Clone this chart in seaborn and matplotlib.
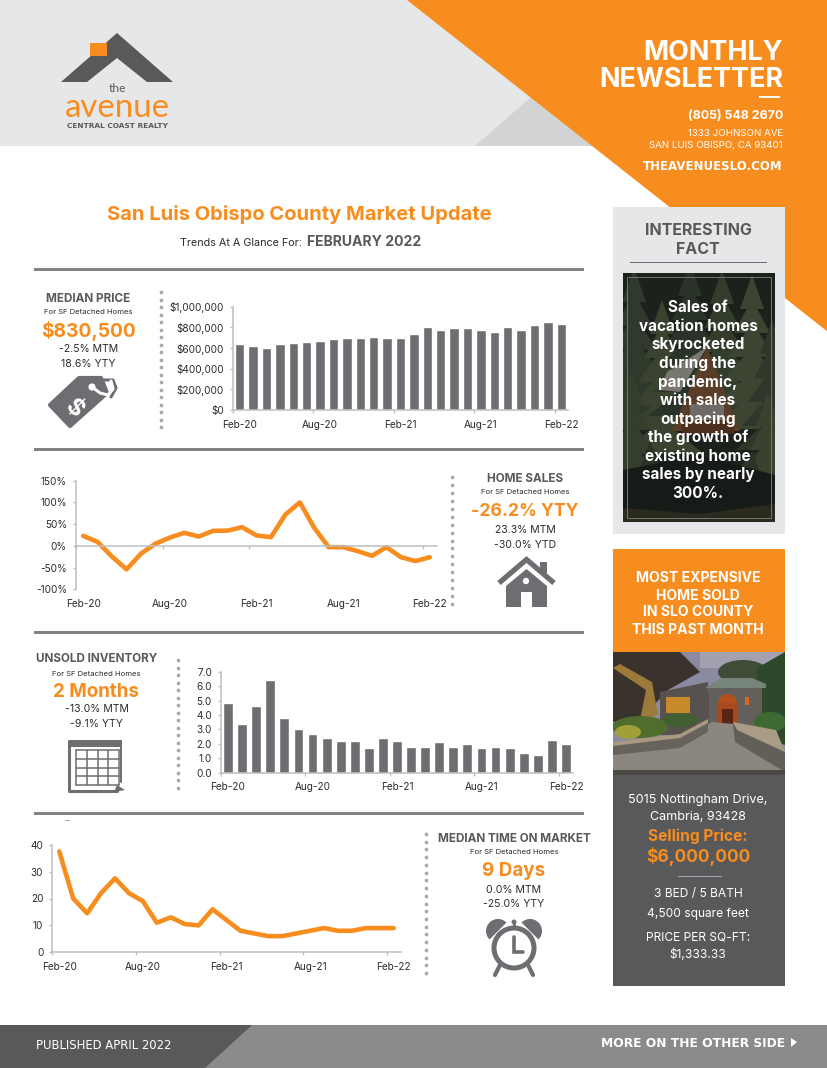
"""Monthly market newsletter page rebuilt with seaborn charts on a pixel canvas."""
from __future__ import annotations

import matplotlib

matplotlib.use("Agg")

import matplotlib.pyplot as plt
import seaborn as sns
from matplotlib.patches import Circle, Ellipse, Polygon, Rectangle, Wedge

WIDTH, HEIGHT = 828, 1068
DPI = 100

ORANGE = "#F78D1E"
LIGHT = "#E6E7E8"
MID = "#D1D3D4"
DARK = "#58595B"
BAR = "#6D6E71"
AXIS = "#BCBEC0"
RULE = "#808285"
DOTS = "#A7A9AC"
FOOTER = "#8A8B8D"
INK = "#2B2B2D"

MONTHS = [
    "Feb-20", "Mar-20", "Apr-20", "May-20", "Jun-20", "Jul-20", "Aug-20", "Sep-20", "Oct-20",
    "Nov-20", "Dec-20", "Jan-21", "Feb-21", "Mar-21", "Apr-21", "May-21", "Jun-21", "Jul-21",
    "Aug-21", "Sep-21", "Oct-21", "Nov-21", "Dec-21", "Jan-22", "Feb-22",
]
TICK_MONTHS = ["Feb-20", "Aug-20", "Feb-21", "Aug-21", "Feb-22"]

MEDIAN_PRICE = [
    640000, 620000, 600000, 635000, 645000, 660000, 665000, 685000, 700000, 698000, 710000,
    698000, 700000, 738000, 800000, 775000, 798000, 795000, 770000, 755000, 800000, 775000,
    820000, 853000, 830500,
]
HOME_SALES = [
    23, 9, -25, -54, -18, 5, 19, 30, 21.5, 34.6, 35, 43, 24, 20, 72, 100, 41.5, -3, -3, -12,
    -23, -3, -26, -35, -26.2,
]
INVENTORY = [
    4.8, 3.4, 4.6, 6.4, 3.8, 3.0, 2.7, 2.4, 2.2, 2.2, 1.7, 2.4, 2.2, 1.8, 1.8, 2.1, 1.8, 2.0,
    1.7, 1.8, 1.7, 1.4, 1.2, 2.3, 2.0,
]
TIME_ON_MARKET = [
    37.5, 20, 14.5, 22, 27.5, 22, 19, 11, 13, 10.5, 10, 16, 12, 8, 7, 6, 6, 7, 8, 9, 8, 8, 9, 9, 9,
]

PRICE_TICKS = [0, 200000, 400000, 600000, 800000, 1000000]
PRICE_LABELS = ["$0", "$200,000", "$400,000", "$600,000", "$800,000", "$1,000,000"]
SALES_TICKS = [-100, -50, 0, 50, 100, 150]
SALES_LABELS = ["-100%", "-50%", "0%", "50%", "100%", "150%"]
INVENTORY_TICKS = [0, 1, 2, 3, 4, 5, 6, 7]
INVENTORY_LABELS = ["0.0", "1.0", "2.0", "3.0", "4.0", "5.0", "6.0", "7.0"]
MARKET_TICKS = [0, 10, 20, 30, 40]
MARKET_LABELS = ["0", "10", "20", "30", "40"]

FACT_LINES = [
    "Sales of", "vacation homes", "skyrocketed", "during the", "pandemic,", "with sales",
    "outpacing", "the growth of", "existing home", "sales by nearly", "300%.",
]
# fir trees behind the cabin: centre x, top y, colour
FIRS = [
    (634, 268, "#2F3A2C"), (662, 300, "#39432F"), (690, 262, "#2A3327"), (722, 270, "#333D2C"),
    (752, 275, "#3B4531"), (772, 320, "#2E3729"), (632, 372, "#343E2D"), (768, 392, "#38422F"),
    (650, 440, "#2A3126"), (752, 450, "#2C3327"),
]

sns.set_theme(style="white")
plt.rcParams["font.family"] = ["Inter", "DejaVu Sans"]

fig = plt.figure(figsize=(WIDTH / DPI, HEIGHT / DPI), dpi=DPI, facecolor="white")
canvas = fig.add_axes([0, 0, 1, 1], zorder=0)
canvas.set_xlim(0, WIDTH)
canvas.set_ylim(HEIGHT, 0)
canvas.axis("off")


def put(x, y, text, px, color=INK, weight="normal", ha="center", family=None, zorder=5, rotation=0):
    """Write text at a pixel position, size given as font pixels."""
    kwargs = {"family": family} if family else {}
    canvas.text(x, y, text, fontsize=px * 72 / DPI, color=color, fontweight=weight, ha=ha,
                va="center_baseline", zorder=zorder, rotation=rotation, **kwargs)


def poly(points, color, zorder=2, clip=None):
    patch = Polygon(points, closed=True, facecolor=color, edgecolor="none", zorder=zorder)
    canvas.add_patch(patch)
    if clip is not None:
        patch.set_clip_path(clip)
    return patch


def rect(x0, y0, x1, y1, color, zorder=2):
    patch = Rectangle((x0, y0), x1 - x0, y1 - y0, facecolor=color, edgecolor="none", zorder=zorder)
    canvas.add_patch(patch)
    return patch


def blob(x, y, w, h, color, clip, zorder=4):
    patch = Ellipse((x, y), w, h, facecolor=color, edgecolor="none", zorder=zorder)
    canvas.add_patch(patch)
    patch.set_clip_path(clip)


def dotted(x, y0, y1):
    count = int(round((y1 - y0) / 7.7)) + 1
    ys = [y0 + i * (y1 - y0) / (count - 1) for i in range(count)]
    canvas.scatter([x] * count, ys, s=7, color=DOTS, linewidths=0, zorder=3)


def chart_axes(left, top, right, bottom):
    ax = fig.add_axes(
        [left / WIDTH, 1 - bottom / HEIGHT, (right - left) / WIDTH, (bottom - top) / HEIGHT],
        zorder=2,
    )
    ax.patch.set_alpha(0)
    return ax


def style_axes(ax, yticks, ylabels, pad=7):
    ax.set_xlim(-0.5, len(MONTHS) - 0.5)
    ax.set_ylim(yticks[0], yticks[-1])
    ax.set_xlabel("")
    ax.set_ylabel("")
    sns.despine(ax=ax)
    for side in ("left", "bottom"):
        ax.spines[side].set_color(AXIS)
        ax.spines[side].set_linewidth(1.1)
    positions = [MONTHS.index(m) for m in TICK_MONTHS]
    ax.set_xticks(positions, TICK_MONTHS)
    ax.set_xticks([p - 0.5 for p in positions], minor=True)
    ax.set_yticks(yticks, ylabels)
    ax.tick_params(axis="x", which="major", length=0, pad=pad, labelsize=7.2, labelcolor=INK)
    ax.tick_params(axis="x", which="minor", length=2.5, width=1, color=AXIS, bottom=True)
    ax.tick_params(axis="y", length=2.5, width=1, color=AXIS, left=True, pad=4, labelsize=7.2, labelcolor=INK)


def bar_chart(box, values, yticks, ylabels):
    ax = chart_axes(*box)
    sns.barplot(x=MONTHS, y=values, color=BAR, saturation=1, width=0.7, ax=ax)
    style_axes(ax, yticks, ylabels)
    return ax


def line_chart(box, values, yticks, ylabels, pad=7):
    ax = chart_axes(*box)
    sns.lineplot(x=MONTHS, y=values, color=ORANGE, linewidth=3.3, sort=False, estimator=None,
                 errorbar=None, ax=ax)
    style_axes(ax, yticks, ylabels, pad=pad)
    return ax


def kpi(x, y_title, title, value, value_px, stat_a, stat_b, y_sub, y_value, y_a, y_b):
    put(x, y_title, title, 11.7, color=DARK, weight="bold")
    put(x, y_sub, "For SF Detached Homes", 7.7)
    put(x, y_value, value, value_px, color=ORANGE, weight="bold")
    put(x, y_a, stat_a, 10.5)
    put(x, y_b, stat_b, 10.5)


# header shapes
rect(0, 0, WIDTH, 146, LIGHT, zorder=1)
poly([(475, 146), (531, 97), (594, 146)], MID, zorder=1)
poly([(407, 0), (828, 0), (828, 332)], ORANGE, zorder=1)

# logo
poly([(117, 33), (173, 82), (147, 82), (117, 58), (87, 82), (61, 82)], DARK)
rect(90, 43, 107, 56, ORANGE, zorder=3)
put(117, 87.5, "the", 12, color=DARK, family="Lato")
put(117, 105, "avenue", 33, color=ORANGE, family="Lato")
put(117.5, 126, "CENTRAL COAST REALTY", 7.4, color=DARK, weight="bold", family="DejaVu Sans")

# header contact block
put(783, 50, "MONTHLY", 27, color="white", weight="bold", ha="right")
put(783, 77, "NEWSLETTER", 27, color="white", weight="bold", ha="right")
rect(759, 95.5, 780, 98, "white", zorder=3)
put(783, 114.5, "(805) 548 2670", 12.4, color="white", weight="bold", ha="right")
put(783, 133, "1333 JOHNSON AVE", 9.7, color="white", ha="right")
put(783, 145, "SAN LUIS OBISPO, CA 93401", 9.7, color="white", ha="right")
put(783, 165, "THEAVENUESLO.COM", 11.7, color="white", weight="bold", ha="right", family="DejaVu Sans")

# page title
put(299, 213, "San Luis Obispo County Market Update", 20.2, color=ORANGE, weight="bold")
put(302, 242, "Trends At A Glance For:", 10.8, ha="right")
put(307, 241, "FEBRUARY 2022", 14, color=DARK, weight="bold", ha="left")

# section rules
for rule_y in (269, 449, 632, 813):
    rect(34, rule_y - 1.5, 584, rule_y + 1.5, RULE)
rect(65, 819.5, 70, 820.5, DOTS)

dotted(161, 292, 427)
dotted(452, 477, 604)
dotted(178.5, 660, 788)
dotted(426, 834, 973)

# charts, boxes are left, top, right, bottom in pixels
bar_chart((233, 306.7, 568, 410), MEDIAN_PRICE, PRICE_TICKS, PRICE_LABELS)
sales_ax = line_chart((76, 480.7, 437, 589.3), HOME_SALES, SALES_TICKS, SALES_LABELS, pad=38)
sales_ax.spines["bottom"].set_position(("data", 0))
bar_chart((221, 671.7, 573, 772.7), INVENTORY, INVENTORY_TICKS, INVENTORY_LABELS)
line_chart((52.3, 844.7, 400.7, 952.3), TIME_ON_MARKET, MARKET_TICKS, MARKET_LABELS)

# stat blocks
kpi(88.5, 297, "MEDIAN PRICE", "$830,500", 19.2, "-2.5% MTM", "18.6% YTY", 311, 329, 348, 363)
kpi(525, 478, "HOME SALES", "-26.2% YTY", 17.6, "23.3% MTM", "-30.0% YTD", 492, 509, 529, 544)
kpi(96.5, 658, "UNSOLD INVENTORY", "2 Months", 18.8, "-13.0% MTM", "-9.1% YTY", 673, 690, 708, 723)
kpi(514, 838, "MEDIAN TIME ON MARKET", "9 Days", 18.8, "0.0% MTM", "-25.0% YTY", 852, 869, 889, 903)

# price tag icon
canvas.add_patch(Polygon([(79, 378), (101, 378), (107, 393), (70, 426), (50, 405)], closed=True,
                         facecolor=BAR, edgecolor=BAR, linewidth=3, joinstyle="round", zorder=3))
canvas.add_patch(Circle((92, 387), 3.6, facecolor="white", edgecolor="none", zorder=4))
canvas.plot([92, 100, 108, 113, 111], [387, 393, 395, 389, 381], color="white", lw=2.2, zorder=4,
            solid_capstyle="round")
canvas.plot([104, 113, 116, 111], [380, 380, 388, 397], color=BAR, lw=2.2, zorder=3)
put(74, 404, "$", 24, color="white", weight="bold", rotation=-45)

# house icon
poly([(506, 607), (506, 586), (526.5, 569), (547, 586), (547, 607)], BAR, zorder=3)
rect(540, 562, 547, 573, BAR, zorder=3)
canvas.plot([499, 526.5, 554], [583, 559.5, 583], color=BAR, lw=3.8, zorder=4,
            solid_capstyle="butt", solid_joinstyle="miter")
canvas.plot([500, 526.5, 553], [589, 566, 589], color="white", lw=1.6, zorder=4)
canvas.add_patch(Circle((526, 581), 3.2, facecolor="white", edgecolor="none", zorder=5))
rect(521, 592, 532, 607, "white", zorder=5)

# calendar icon
rect(70, 740, 122, 747, BAR, zorder=3)
canvas.plot([69.5, 69.5, 117], [741, 791, 791], color=BAR, lw=2.2, zorder=3)
canvas.plot([121.5, 121.5], [746, 782], color=BAR, lw=1.4, zorder=3)
for i in range(5):
    canvas.plot([76 + i * 10.8] * 2, [750, 785], color=BAR, lw=1.1, zorder=4)
    canvas.plot([76, 119], [750 + i * 8.75] * 2, color=BAR, lw=1.1, zorder=4)
poly([(117, 785), (125, 790), (114, 792)], BAR, zorder=4)

# clock icon
canvas.add_patch(Wedge((498, 931), 12, 135, 315, facecolor=BAR, edgecolor="none", zorder=3))
canvas.add_patch(Wedge((530, 931), 12, 225, 45, facecolor=BAR, edgecolor="none", zorder=3))
canvas.add_patch(Circle((514, 948), 20, facecolor="white", edgecolor=BAR, linewidth=3.6, zorder=4))
canvas.plot([514, 514, 523], [937, 952, 952], color=BAR, lw=2.6, zorder=5, solid_joinstyle="miter")
canvas.add_patch(Circle((514, 922), 2.5, facecolor=BAR, edgecolor="none", zorder=3))
canvas.plot([514, 514], [923, 929], color=BAR, lw=2, zorder=3)
canvas.plot([500, 495], [965, 975], color=BAR, lw=3, zorder=3)
canvas.plot([528, 533], [965, 975], color=BAR, lw=3, zorder=3)

# interesting fact panel with the cabin photo sketched in shapes
rect(613, 207, 785, 534, LIGHT)
put(698, 229, "INTERESTING", 16, color=DARK, weight="bold", zorder=5)
put(698, 248, "FACT", 16, color=DARK, weight="bold", zorder=5)
rect(630, 261.5, 767, 262.5, BAR, zorder=3)
cabin_photo = rect(623, 273, 775, 522, "#1C211C", zorder=3)
for cx, top, shade in FIRS:
    for tier in range(6):
        half = 12 + tier * 6
        y = top + tier * 24
        poly([(cx, y), (cx + half, y + 34), (cx - half, y + 34)], shade, zorder=3, clip=cabin_photo)
poly([(707, 347), (740, 431), (672, 431)], "#5A3D28", zorder=3, clip=cabin_photo)
poly([(707, 347), (667, 372), (660, 390), (680, 392)], "#77766F", zorder=3, clip=cabin_photo)
rect(690, 404, 724, 420, "#6F6A68", zorder=3)
rect(682, 420, 734, 434, "#4A301D", zorder=3)
poly([(623, 470), (700, 455), (775, 475), (775, 522), (623, 522)], "#171B18", zorder=3, clip=cabin_photo)
poly([(623, 508), (700, 514), (775, 504), (775, 522), (623, 522)], "#2B2A1E", zorder=3, clip=cabin_photo)
canvas.add_patch(Rectangle((627, 277), 144, 241, facecolor="none", edgecolor="#74786F", linewidth=0.7, zorder=4))
for i, line in enumerate(FACT_LINES):
    put(698, 306 + i * 18.6, line, 15.2, color="white", weight="bold", zorder=6)

# most expensive home panel with the house photo sketched in shapes
rect(613, 549, 785, 652, ORANGE)
for y, line in zip((577, 594, 611, 628.5), ("MOST EXPENSIVE", "HOME SOLD", "IN SLO COUNTY", "THIS PAST MONTH")):
    put(698, y, line, 14, color="white", weight="bold")
house_photo = rect(613, 652, 785, 775, "#8C8AA0", zorder=3)
rect(700, 652, 785, 668, "#A5A0B0", zorder=3)
blob(743, 672, 50, 24, "#3F4D38", house_photo, zorder=3)
poly([(757, 668), (785, 652), (785, 745), (757, 735)], "#2C4A2B", zorder=3, clip=house_photo)
poly([(613, 652), (680, 652), (700, 672), (668, 690), (640, 720), (613, 722)], "#3A322C", zorder=3, clip=house_photo)
poly([(640, 720), (646, 690), (613, 668), (620, 664), (652, 682), (658, 715)], "#9B7A3A", zorder=3, clip=house_photo)
poly([(660, 692), (708, 682), (712, 735), (660, 735)], "#57524E", zorder=3, clip=house_photo)
rect(709, 687, 762, 735, "#635F5B", zorder=3)
poly([(706, 687), (722, 678), (752, 678), (766, 684), (766, 688), (706, 688)], "#76847A", zorder=4, clip=house_photo)
blob(727.5, 703, 19, 18, "#B0501E", house_photo)
rect(718, 703, 737, 724, "#A8481C", zorder=4)
rect(722, 709, 733, 724, "#5A2412", zorder=4)
rect(666, 697, 690, 713, "#C98A2B", zorder=4)
rect(745, 697, 749, 705, "#D9642A", zorder=4)
blob(640, 727, 56, 22, "#4F6E2C", house_photo)
blob(628, 732, 26, 14, "#9FA03A", house_photo)
blob(680, 720, 34, 14, "#42602F", house_photo)
blob(770, 722, 32, 20, "#3D6A33", house_photo)
poly([(613, 775), (613, 750), (680, 741), (712, 722), (734, 724), (785, 762), (785, 775)], "#8B877F", zorder=4, clip=house_photo)
poly([(613, 744), (680, 736), (708, 720), (708, 732), (680, 748), (613, 755)], "#67635C", zorder=5, clip=house_photo)
poly([(613, 742), (680, 734), (708, 719), (708, 723), (680, 738), (613, 746)], "#A89A80", zorder=5, clip=house_photo)
poly([(733, 724), (785, 752), (785, 772), (735, 742)], "#625E58", zorder=5, clip=house_photo)
poly([(733, 722), (776, 730), (785, 752), (737, 730)], "#A99C84", zorder=5, clip=house_photo)
rect(613, 770, 785, 775, "#4A4843", zorder=5)
rect(613, 775, 785, 986, DARK)
put(698, 798, "5015 Nottingham Drive,", 12.6, color="white")
put(698, 816, "Cambria, 93428", 12.6, color="white")
put(698, 835, "Selling Price:", 15.5, color=ORANGE, weight="bold")
put(698, 855, "$6,000,000", 17.5, color=ORANGE, weight="bold")
rect(678, 875.5, 722, 876.5, "#A7A9AC", zorder=3)
put(698, 893, "3 BED / 5 BATH", 12, color="white")
put(698, 912, "4,500 square feet", 12, color="white")
put(698, 936, "PRICE PER SQ-FT:", 12, color="white")
put(698, 953, "$1,333.33", 12, color="white")

# footer
rect(0, 1025, WIDTH, HEIGHT, FOOTER)
poly([(0, 1025), (252, 1025), (205, HEIGHT), (0, HEIGHT)], DARK, zorder=3)
put(36, 1044, "PUBLISHED APRIL 2022", 11.6, color="white", ha="left", family="DejaVu Sans")
put(785, 1042, "MORE ON THE OTHER SIDE", 12.2, color="white", weight="bold", ha="right", family="DejaVu Sans")
poly([(791, 1038), (797, 1042), (791, 1047)], "white", zorder=3)

fig.savefig("out.png", dpi=DPI)
plt.close(fig)
